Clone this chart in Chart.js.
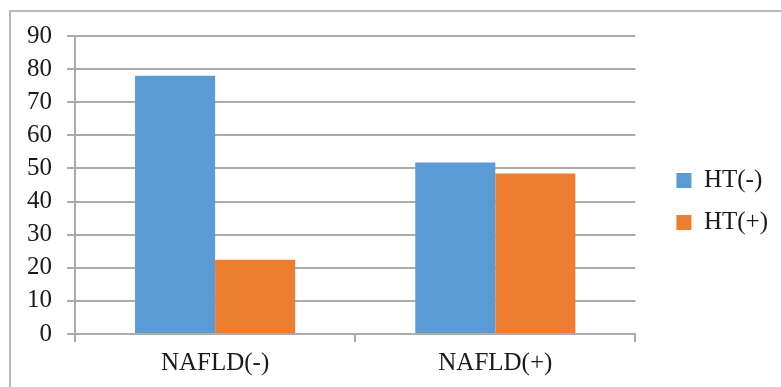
<!DOCTYPE html>
<html>
<head>
<meta charset="utf-8">
<script src="https://cdn.jsdelivr.net/npm/chart.js@4/dist/chart.umd.min.js"></script>
<style>
  html, body { margin: 0; padding: 0; background: #fff; overflow: hidden; }
  #frame { position: absolute; left: 9px; top: 10px; width: 820px; height: 420px;
           border: 2px solid #b8b8b8; box-sizing: border-box; }
  #wrap { position: absolute; left: 0; top: 0; width: 781px; height: 387px; }
</style>
</head>
<body>
<div id="frame"></div>
<div id="wrap"><canvas id="c" width="781" height="387"></canvas></div>
<script>
// Share of hypertension by NAFLD status (%)
const categories = ['NAFLD(-)', 'NAFLD(+)'];
const seriesNames = ['HT(-)', 'HT(+)'];
const htNegative = [78.0, 51.8];
const htPositive = [22.4, 48.5];
const yTicks = [0, 10, 20, 30, 40, 50, 60, 70, 80, 90];

const BLUE = '#5B9BD5';
const ORANGE = '#ED7D31';
const GRID = '#ababab';
const TEXT = '#1a1a1a';
const FONT = { family: "'Liberation Serif', 'Times New Roman', serif", size: 25 };

Chart.defaults.font.family = FONT.family;
Chart.defaults.font.size = FONT.size;
Chart.defaults.color = TEXT;

// empty axis used only to reserve space around the plot area
const spacer = (size) => ({
  display: true,
  grid: { display: false },
  ticks: { display: false },
  border: { display: false },
  afterFit: s => { if (s.isHorizontal()) s.height = size; else s.width = size; }
});

new Chart(document.getElementById('c'), {
  type: 'bar',
  data: {
    labels: categories,
    datasets: [
      { label: seriesNames[0], data: htNegative, backgroundColor: BLUE, borderWidth: 0 },
      { label: seriesNames[1], data: htPositive, backgroundColor: ORANGE, borderWidth: 0 }
    ]
  },
  options: {
    responsive: false,
    animation: false,
    devicePixelRatio: 1,
    categoryPercentage: 0.5714,
    barPercentage: 1,
    layout: { padding: { top: 16, bottom: 0, left: 0, right: 3 } },
    plugins: {
      tooltip: { enabled: false },
      legend: {
        position: 'right',
        labels: { boxWidth: 15, boxHeight: 15, padding: 17, color: TEXT, font: FONT }
      }
    },
    scales: {
      x: {
        grid: { display: true, drawOnChartArea: false, drawTicks: true, tickLength: 8,
                color: GRID, lineWidth: 2, offset: true },
        border: { display: true, color: GRID, width: 2 },
        ticks: { padding: 6, color: TEXT, font: FONT, maxRotation: 0 },
        afterFit: s => { s.height = 53; }
      },
      y: {
        min: yTicks[0],
        max: yTicks[yTicks.length - 1],
        ticks: { stepSize: yTicks[1] - yTicks[0], padding: 15, color: TEXT, font: FONT },
        grid: { color: GRID, lineWidth: 2, tickLength: 8 },
        border: { display: true, color: GRID, width: 2 },
        afterFit: s => { s.width = 75; }
      },
      xTop: Object.assign({ type: 'linear', position: 'top' }, spacer(20)),
      yRight: Object.assign({ type: 'linear', position: 'right' }, spacer(24))
    }
  }
});
</script>
</body>
</html>
